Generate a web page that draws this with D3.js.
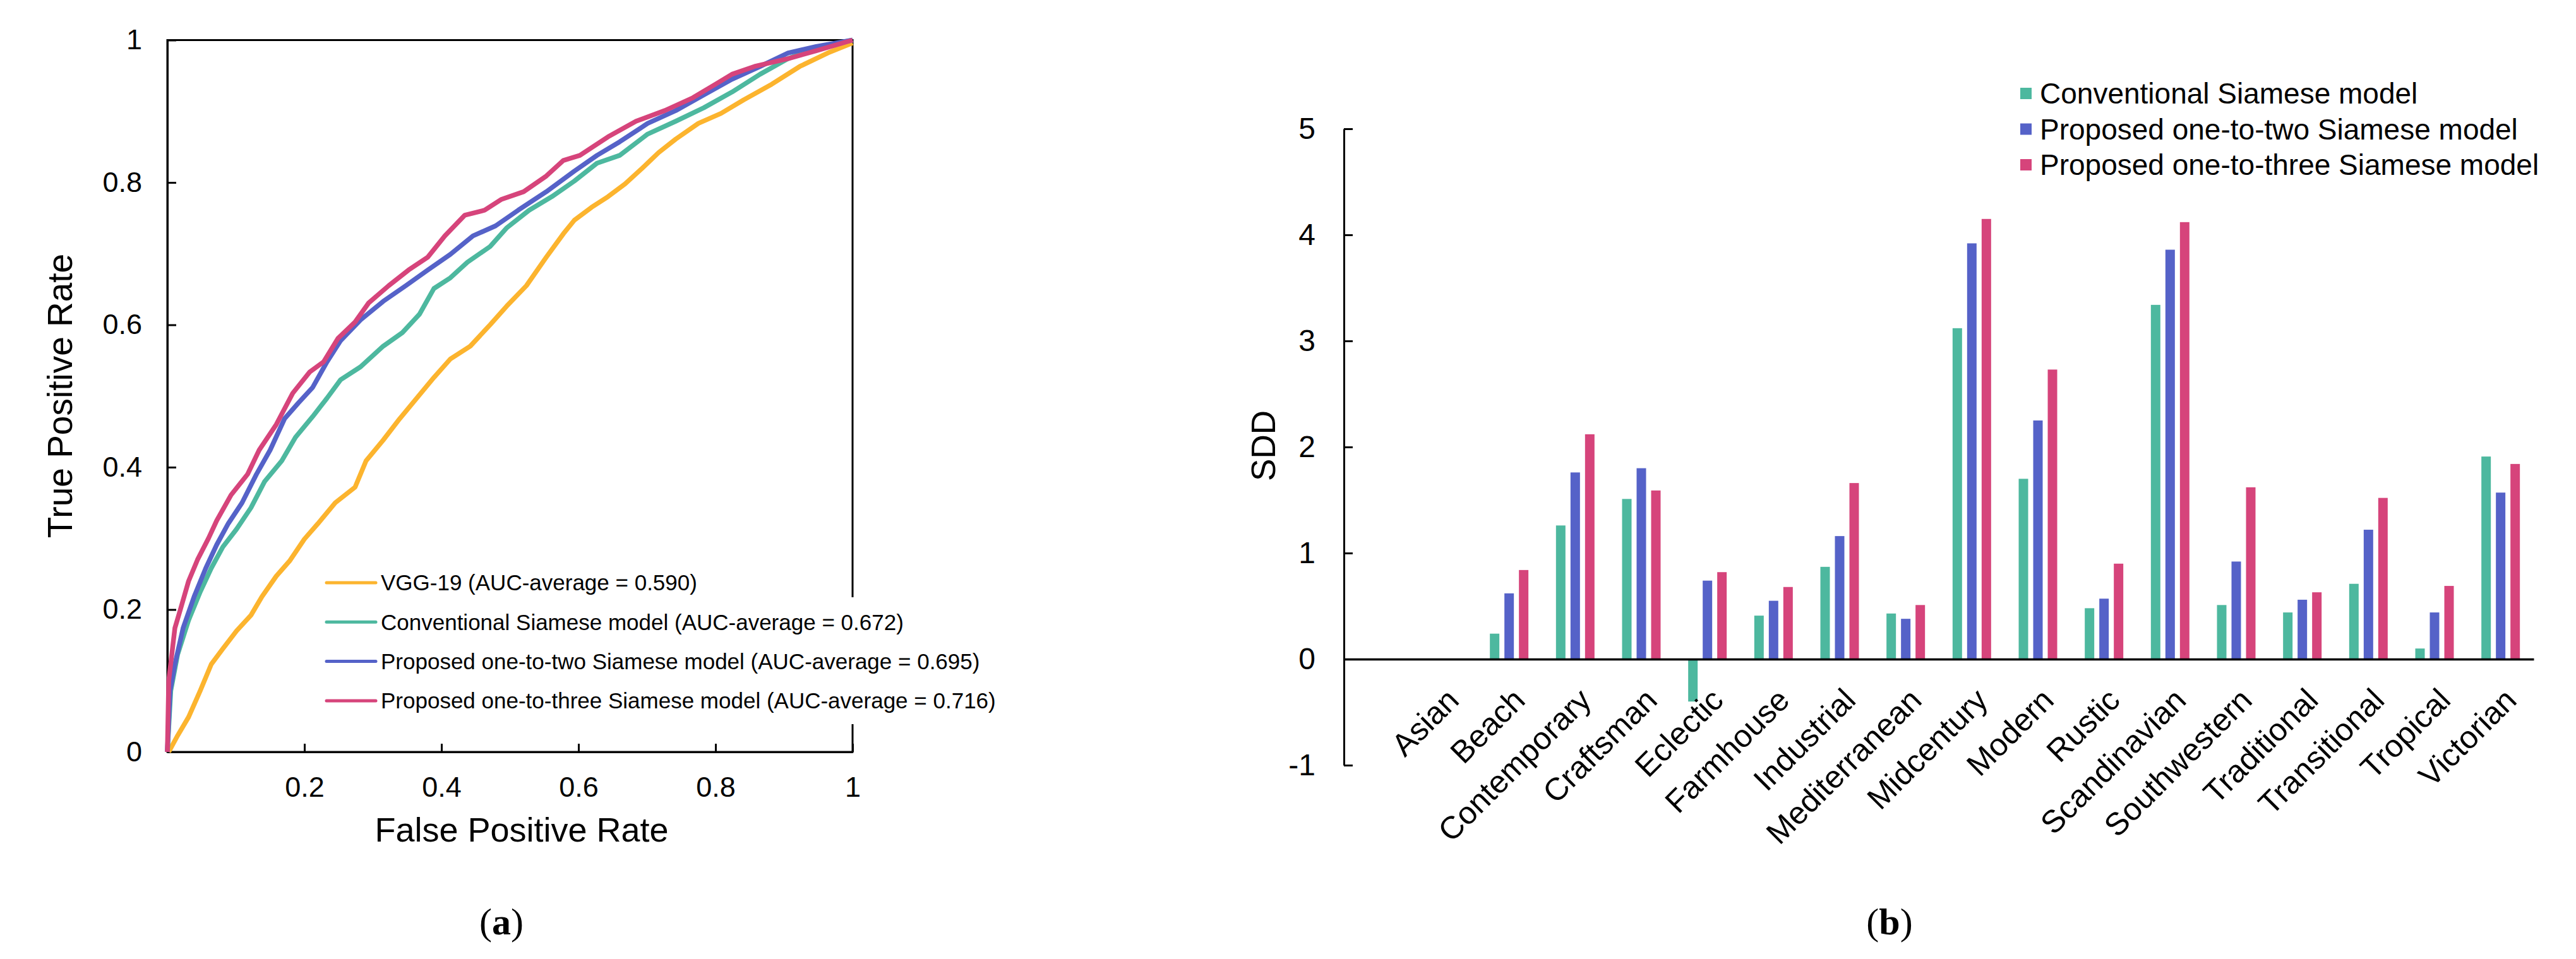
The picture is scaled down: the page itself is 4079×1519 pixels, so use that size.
<!DOCTYPE html>
<html>
<head>
<meta charset="utf-8">
<script src="https://cdn.jsdelivr.net/npm/d3@7"></script>
<style>
  html, body { margin: 0; padding: 0; background: #fff; }
  text { font-family: "Liberation Sans", Arial, sans-serif; fill: #000; }
</style>
</head>
<body>
<svg id="chart" width="4079" height="1519"></svg>
<script>
// ---- panel (a): ROC curves, [FPR, TPR] pairs ----
var rocVgg = [[0.002,0],[0.015,0.023],[0.031,0.049],[0.048,0.086],[0.064,0.123],[0.081,0.145],[0.101,0.17],
  [0.122,0.192],[0.138,0.218],[0.159,0.247],[0.179,0.269],[0.2,0.299],[0.22,0.321],[0.245,0.35],[0.274,0.372],
  [0.29,0.409],[0.315,0.438],[0.339,0.468],[0.364,0.497],[0.389,0.526],[0.413,0.552],[0.442,0.57],[0.471,0.6],
  [0.495,0.626],[0.524,0.655],[0.553,0.695],[0.578,0.728],[0.594,0.747],[0.619,0.765],[0.643,0.78],[0.668,0.798],
  [0.693,0.82],[0.717,0.842],[0.742,0.861],[0.775,0.883],[0.808,0.897],[0.841,0.916],[0.882,0.938],[0.923,0.963],
  [0.964,0.982],[1,0.996]];
var rocConv = [[0,0],[0.005,0.086],[0.015,0.137],[0.031,0.185],[0.048,0.225],[0.064,0.258],[0.081,0.288],
  [0.101,0.313],[0.122,0.343],[0.142,0.38],[0.167,0.409],[0.187,0.442],[0.212,0.471],[0.233,0.497],[0.253,0.523],
  [0.282,0.541],[0.315,0.57],[0.343,0.589],[0.368,0.615],[0.389,0.651],[0.413,0.666],[0.438,0.688],[0.471,0.71],
  [0.495,0.736],[0.528,0.761],[0.561,0.78],[0.594,0.802],[0.627,0.827],[0.66,0.838],[0.701,0.868],[0.742,0.886],
  [0.783,0.905],[0.824,0.927],[0.865,0.952],[0.906,0.974],[0.947,0.989],[1,1]];
var rocTwo = [[0,0],[0.004,0.086],[0.011,0.123],[0.023,0.174],[0.039,0.218],[0.056,0.258],[0.072,0.291],
  [0.089,0.321],[0.109,0.35],[0.13,0.39],[0.15,0.424],[0.171,0.468],[0.191,0.49],[0.212,0.512],[0.233,0.548],
  [0.253,0.578],[0.282,0.607],[0.315,0.633],[0.348,0.655],[0.38,0.677],[0.413,0.699],[0.446,0.725],[0.479,0.739],
  [0.512,0.761],[0.553,0.787],[0.594,0.816],[0.627,0.838],[0.66,0.857],[0.701,0.883],[0.742,0.901],[0.783,0.923],
  [0.824,0.945],[0.865,0.963],[0.906,0.982],[0.947,0.991],[1,1]];
var rocThree = [[0,0],[0.002,0.1],[0.011,0.174],[0.019,0.2],[0.031,0.24],[0.044,0.27],[0.06,0.3],[0.072,0.325],
  [0.093,0.361],[0.117,0.39],[0.134,0.424],[0.159,0.46],[0.183,0.504],[0.208,0.534],[0.228,0.548],[0.249,0.581],
  [0.274,0.604],[0.294,0.631],[0.323,0.655],[0.352,0.677],[0.38,0.695],[0.405,0.725],[0.434,0.754],[0.463,0.761],
  [0.487,0.776],[0.52,0.787],[0.553,0.809],[0.578,0.831],[0.602,0.838],[0.643,0.864],[0.684,0.886],[0.726,0.901],
  [0.767,0.919],[0.8,0.938],[0.824,0.952],[0.857,0.963],[0.906,0.974],[0.947,0.985],[1,1]];
var rocNames = ["VGG-19 (AUC-average = 0.590)",
  "Conventional Siamese model (AUC-average = 0.672)",
  "Proposed one-to-two Siamese model (AUC-average = 0.695)",
  "Proposed one-to-three Siamese model (AUC-average = 0.716)"];
var rocTicks = [0, 0.2, 0.4, 0.6, 0.8, 1];

// ---- panel (b): SDD per style ----
var styles = ["Asian", "Beach", "Contemporary", "Craftsman", "Eclectic", "Farmhouse", "Industrial",
  "Mediterranean", "Midcentury", "Modern", "Rustic", "Scandinavian", "Southwestern", "Traditional",
  "Transitional", "Tropical", "Victorian"];
var sddConv  = [0, 0.24, 1.26, 1.51, -0.40, 0.41, 0.87, 0.43, 3.12, 1.70, 0.48, 3.34, 0.51, 0.44, 0.71, 0.10, 1.91];
var sddTwo   = [0, 0.62, 1.76, 1.80, 0.74, 0.55, 1.16, 0.38, 3.92, 2.25, 0.57, 3.86, 0.92, 0.56, 1.22, 0.44, 1.57];
var sddThree = [0, 0.84, 2.12, 1.59, 0.82, 0.68, 1.66, 0.51, 4.15, 2.73, 0.90, 4.12, 1.62, 0.63, 1.52, 0.69, 1.84];
var barNames = ["Conventional Siamese model", "Proposed one-to-two Siamese model", "Proposed one-to-three Siamese model"];
var sddTicks = [-1, 0, 1, 2, 3, 4, 5];

var orange = "#FCB42E", teal = "#4DB89F", blue = "#5562C8", pink = "#D6447B";

var svg = d3.select("#chart");
svg.append("rect").attr("width", 4079).attr("height", 1519).attr("fill", "#fff");

// ================= (a) =================
var x = d3.scaleLinear().domain([0, 1]).range([265, 1350]);
var y = d3.scaleLinear().domain([0, 1]).range([1191, 63.5]);
var fmt = function(d) { return d === 0 ? "0" : d === 1 ? "1" : d3.format(".1f")(d); };

var ga = svg.append("g");

// frame top/right
ga.append("rect")
  .attr("x", x(0)).attr("y", y(1))
  .attr("width", x(1) - x(0)).attr("height", y(0) - y(1))
  .attr("fill", "none").attr("stroke", "#000").attr("stroke-width", 3);

var yAxisA = ga.append("g").attr("transform", "translate(" + x(0) + ",0)")
  .call(d3.axisLeft(y).tickValues(rocTicks).tickFormat(fmt).tickSizeInner(-14).tickSizeOuter(0).tickPadding(40));
var xAxisA = ga.append("g").attr("transform", "translate(0," + y(0) + ")")
  .call(d3.axisBottom(x).tickValues(rocTicks.slice(1)).tickFormat(fmt).tickSizeInner(-13).tickSizeOuter(0).tickPadding(39));
[yAxisA, xAxisA].forEach(function(a) {
  a.select(".domain").attr("stroke-width", 3);
  a.selectAll(".tick line").attr("stroke-width", 3);
  a.selectAll(".tick text").attr("font-size", 45).attr("font-family", "Liberation Sans, Arial, sans-serif");
});

var line = d3.line().x(function(d) { return x(d[0]); }).y(function(d) { return y(d[1]); });
var rocSeries = [rocVgg, rocConv, rocTwo, rocThree];
var rocColors = [orange, teal, blue, pink];
ga.selectAll("path.roc").data(rocSeries).enter().append("path")
  .attr("class", "roc")
  .attr("d", line)
  .attr("fill", "none")
  .attr("stroke", function(d, i) { return rocColors[i]; })
  .attr("stroke-width", 7.5)
  .attr("stroke-linejoin", "round");

// legend (white box hides part of the right frame)
ga.append("rect").attr("x", 505).attr("y", 946).attr("width", 935).attr("height", 201).attr("fill", "#fff");
var legA = ga.selectAll("g.lega").data(rocNames).enter().append("g")
  .attr("class", "lega")
  .attr("transform", function(d, i) { return "translate(517," + (923 + i * 62.3) + ")"; });
legA.append("line").attr("x1", 0).attr("x2", 78)
  .attr("stroke", function(d, i) { return rocColors[i]; })
  .attr("stroke-width", 5).attr("stroke-linecap", "round");
legA.append("text").attr("x", 86).attr("dy", "0.35em").attr("font-size", 35).text(function(d) { return d; });

ga.append("text").attr("x", 826).attr("y", 1333).attr("text-anchor", "middle")
  .attr("font-size", 54).text("False Positive Rate");
ga.append("text").attr("transform", "translate(114,627) rotate(-90)").attr("text-anchor", "middle")
  .attr("font-size", 55).text("True Positive Rate");

var lblA = ga.append("text").attr("x", 794).attr("y", 1480).attr("text-anchor", "middle")
  .attr("font-size", 60).style("font-family", "Liberation Serif, Times New Roman, serif");
lblA.append("tspan").text("(");
lblA.append("tspan").attr("font-weight", "bold").text("a");
lblA.append("tspan").text(")");

// ================= (b) =================
var xb = d3.scaleBand().domain(styles).range([2128, 4012]).paddingInner(0).paddingOuter(0.5).align(1);
var xs = d3.scaleBand().domain(barNames)
  .range([xb.bandwidth() / 2 - 34.5, xb.bandwidth() / 2 + 34.5])
  .paddingInner(0.348).paddingOuter(0.174);
var yb = d3.scaleLinear().domain([-1, 5]).range([1212, 204]);
var barColors = [teal, blue, pink];
var barSeries = [sddConv, sddTwo, sddThree];

var gb = svg.append("g");

var groups = gb.selectAll("g.grp").data(styles).enter().append("g")
  .attr("class", "grp")
  .attr("transform", function(d) { return "translate(" + xb(d) + ",0)"; });
groups.selectAll("rect").data(function(d, i) {
    return barSeries.map(function(s, k) { return { name: barNames[k], v: s[i], k: k }; });
  }).enter().append("rect")
  .attr("x", function(d) { return xs(d.name); })
  .attr("width", xs.bandwidth())
  .attr("y", function(d) { return yb(Math.max(0, d.v)); })
  .attr("height", function(d) { return Math.abs(yb(d.v) - yb(0)); })
  .attr("fill", function(d) { return barColors[d.k]; });

var yAxisB = gb.append("g").attr("transform", "translate(" + xb.range()[0] + ",0)")
  .call(d3.axisLeft(yb).tickValues(sddTicks).tickFormat(function(d) { return String(d); })
    .tickSizeInner(-14).tickSizeOuter(0).tickPadding(45));
yAxisB.select(".domain").attr("stroke-width", 3);
yAxisB.selectAll(".tick line").attr("stroke-width", 3);
yAxisB.selectAll(".tick text").attr("font-size", 48).attr("font-family", "Liberation Sans, Arial, sans-serif");

var xAxisB = gb.append("g").attr("transform", "translate(0," + yb(0) + ")")
  .call(d3.axisBottom(xb).tickSize(0).tickFormat(""));
xAxisB.select(".domain").attr("stroke-width", 3.5);

gb.selectAll("text.cat").data(styles).enter().append("text")
  .attr("class", "cat")
  .attr("text-anchor", "end")
  .attr("font-size", 50)
  .attr("transform", function(d) {
    return "translate(" + (xb(d) + xb.bandwidth() / 2 + 28) + "," + (yb(0) + 68) + ") rotate(-45)";
  })
  .text(function(d) { return d; });

gb.append("text").attr("transform", "translate(2019,706) rotate(-90)").attr("text-anchor", "middle")
  .attr("font-size", 53).text("SDD");

var legB = gb.selectAll("g.legb").data(barNames).enter().append("g")
  .attr("class", "legb")
  .attr("transform", function(d, i) { return "translate(3199," + (148 + i * 56.5) + ")"; });
legB.append("rect").attr("x", 0).attr("y", -9).attr("width", 18).attr("height", 18)
  .attr("fill", function(d, i) { return barColors[i]; });
legB.append("text").attr("x", 31).attr("dy", "0.35em").attr("font-size", 46).text(function(d) { return d; });

var lblB = gb.append("text").attr("x", 2992).attr("y", 1480).attr("text-anchor", "middle")
  .attr("font-size", 60).style("font-family", "Liberation Serif, Times New Roman, serif");
lblB.append("tspan").text("(");
lblB.append("tspan").attr("font-weight", "bold").text("b");
lblB.append("tspan").text(")");
</script>
</body>
</html>
